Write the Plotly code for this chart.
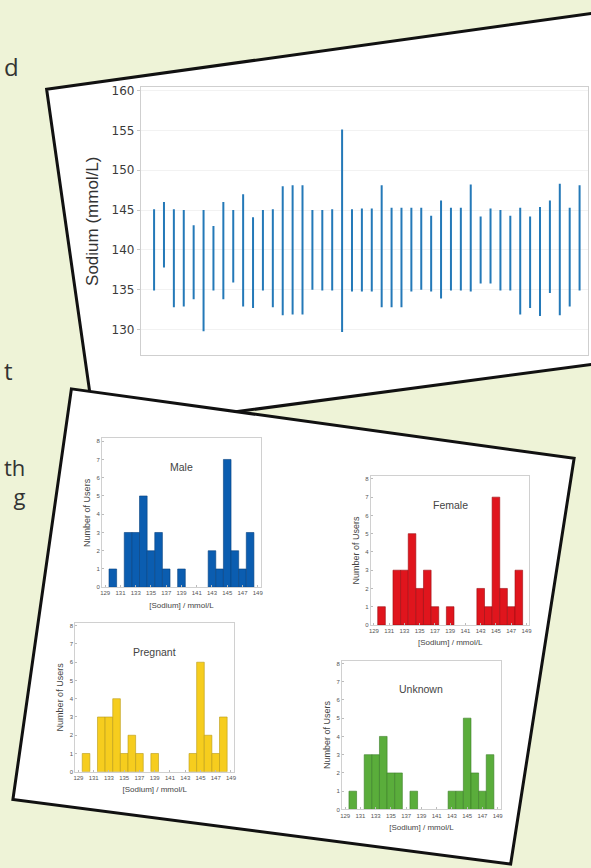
import plotly.graph_objects as go

W, H = 591, 868

# ---------------- data: top chart (sodium range per user) ----------------
user_index = list(range(1, 46))
sodium_min = [134.9, 137.8, 132.8, 132.9, 133.8, 129.8, 134.9, 133.8, 135.9, 132.9,
              132.7, 134.9, 132.8, 131.8, 131.9, 131.9, 135.0, 134.9, 134.9, 129.7,
              134.8, 134.8, 134.8, 132.8, 132.8, 132.8, 134.8, 135.0, 134.8, 133.9,
              134.9, 134.9, 134.8, 135.8, 135.8, 134.9, 134.9, 131.9, 132.7, 131.7,
              134.6, 131.8, 132.9, 134.9, 136.0]
sodium_max = [145.1, 146.0, 145.1, 145.0, 143.1, 145.0, 143.0, 146.0, 145.0, 147.0,
              144.1, 145.0, 145.1, 148.0, 148.1, 148.1, 145.0, 145.0, 145.1, 155.1,
              145.1, 145.2, 145.2, 148.1, 145.3, 145.3, 145.3, 145.3, 144.3, 146.2,
              145.3, 145.3, 148.2, 144.2, 145.2, 145.0, 144.3, 145.3, 144.2, 145.4,
              146.2, 148.3, 145.3, 148.1, 146.5]
sodium_ticks = [130, 135, 140, 145, 150, 155, 160]

# ---------------- data: histograms ----------------
bin_centers = list(range(130, 149))
male_counts     = [1, 0, 3, 3, 5, 2, 3, 1, 0, 1, 0, 0, 0, 2, 1, 7, 2, 1, 3]
female_counts   = [1, 0, 3, 3, 5, 2, 3, 1, 0, 1, 0, 0, 0, 2, 1, 7, 2, 1, 3]
pregnant_counts = [1, 0, 3, 3, 4, 1, 2, 1, 0, 1, 0, 0, 0, 0, 1, 6, 2, 1, 3]
unknown_counts  = [1, 0, 3, 3, 4, 2, 2, 0, 1, 0, 0, 0, 0, 1, 1, 5, 2, 1, 3]
group_names = ["Male", "Female", "Pregnant", "Unknown"]
group_counts = [male_counts, female_counts, pregnant_counts, unknown_counts]
group_colors = ["#0b5db0", "#e0151d", "#f6cd1e", "#5aad3b"]
group_edges = ["#07427f", "#9c0d12", "#b99a17", "#3b7d26"]
hist_ticks = list(range(129, 150, 2))
count_ticks = list(range(0, 9))

# left-edge text fragments of the surrounding page
side_texts = ["d", "t", "th<br>g"]

# ---------------- layout helpers (pixel boxes -> paper) ----------------
def fx(v):
    return v / W

def fy(v):
    return 1 - v / H

def path(points):
    return "M " + " L ".join(f"{fx(x):.5f} {fy(y):.5f}" for x, y in points) + " Z"

top_box = (140, 591, 84, 354)
hist_boxes = [(101, 261, 438, 588), (372, 532, 476, 626),
              (74, 234, 624, 774), (343, 503, 662, 812)]
side_pos = [(63, 24), (369, 24), (481, 22)]

fig = go.Figure()

# top chart: vertical range lines
xs, ys = [], []
for i, lo, hi in zip(user_index, sodium_min, sodium_max):
    xs += [i, i, None]
    ys += [lo, hi, None]
fig.add_trace(go.Scatter(x=xs, y=ys, mode="lines",
                         line=dict(color="#2479b8", width=2),
                         xaxis="x", yaxis="y", hoverinfo="skip", showlegend=False))

# histograms (no outline on empty bins)
for k, (name, counts, col, edge) in enumerate(zip(group_names, group_counts, group_colors, group_edges)):
    n = k + 2
    line_w = [0.6 if c > 0 else 0 for c in counts]
    fig.add_trace(go.Bar(x=bin_centers, y=counts, width=1,
                         marker=dict(color=col, line=dict(color=edge, width=line_w)),
                         xaxis=f"x{n}", yaxis=f"y{n}", showlegend=False, hoverinfo="skip"))

layout = dict(
    width=W, height=H,
    margin=dict(l=0, r=0, t=0, b=0),
    paper_bgcolor="#eef3d7",
    plot_bgcolor="rgba(0,0,0,0)",
    showlegend=False,
    font=dict(family="Liberation Sans, Arial, sans-serif", color="#333"),
)

x0, x1, y0, y1 = top_box
layout["xaxis"] = dict(domain=[fx(x0), fx(x1)], range=[-0.34, 44.85],
                       showticklabels=False, ticks="", showgrid=False, zeroline=False,
                       showline=True, mirror=True, linecolor="#cfcfcf", linewidth=1)
layout["yaxis"] = dict(domain=[fy(y1), fy(y0)], range=[126.8, 160.4],
                       tickvals=sodium_ticks, ticks="outside", ticklen=3, tickcolor="#c8c8c8",
                       tickfont=dict(size=12, color="#3a3a3a", family="DejaVu Sans, sans-serif"),
                       showgrid=True, gridcolor="#f2f2f2", zeroline=False,
                       showline=True, mirror=True, linecolor="#cfcfcf", linewidth=1,
                       title=dict(text="Sodium (mmol/L)", standoff=8,
                                  font=dict(size=17, color="#333")))

annotations = []
for k, (name, box) in enumerate(zip(group_names, hist_boxes)):
    n = k + 2
    bx0, bx1, by0, by1 = box
    layout[f"xaxis{n}"] = dict(domain=[fx(bx0), fx(bx1)], range=[128.6, 149.4],
                               tickvals=hist_ticks, ticks="inside", ticklen=2, tickcolor="#bbb",
                               tickfont=dict(size=6, color="#555"),
                               showgrid=False, zeroline=False,
                               showline=True, mirror=True, linecolor="#d0d0d0", linewidth=1,
                               anchor=f"y{n}",
                               title=dict(text="[Sodium] / mmol/L", standoff=6,
                                          font=dict(size=8, color="#444")))
    layout[f"yaxis{n}"] = dict(domain=[fy(by1), fy(by0)], range=[0, 8.15],
                               tickvals=count_ticks, ticks="inside", ticklen=2, tickcolor="#bbb",
                               tickfont=dict(size=6, color="#555"),
                               showgrid=False, zeroline=False,
                               showline=True, mirror=True, linecolor="#d0d0d0", linewidth=1,
                               anchor=f"x{n}",
                               title=dict(text="Number of Users", standoff=4,
                                          font=dict(size=9, color="#444")))
    annotations.append(dict(text=name, xref=f"x{n} domain", yref=f"y{n} domain",
                            x=0.5, y=0.86, showarrow=False,
                            font=dict(size=10.5, color="#444")))

for txt, (yc, fs) in zip(side_texts, side_pos):
    annotations.append(dict(text=txt, xref="paper", yref="paper", x=0, y=fy(yc),
                            xanchor="left", yanchor="middle", align="right", showarrow=False,
                            font=dict(size=fs, color="#333", family="Open Sans, sans-serif")))

layout["annotations"] = annotations

layout["shapes"] = [
    dict(type="path", xref="paper", yref="paper", layer="below",
         path=path([(45, 86), (612, 7), (612, 361), (94, 430)]),
         fillcolor="white", line=dict(color="#111", width=3)),
    dict(type="path", xref="paper", yref="paper", layer="below",
         path=path([(70, 388), (577, 458), (513, 867), (11, 802)]),
         fillcolor="white", line=dict(color="#111", width=3)),
]

fig.update_layout(**layout)
fig.write_html("out.html",
               config={"displayModeBar": False, "staticPlot": True},
               post_script="document.body.style.margin='0';"
                           "document.body.style.background='#eef3d7';")
